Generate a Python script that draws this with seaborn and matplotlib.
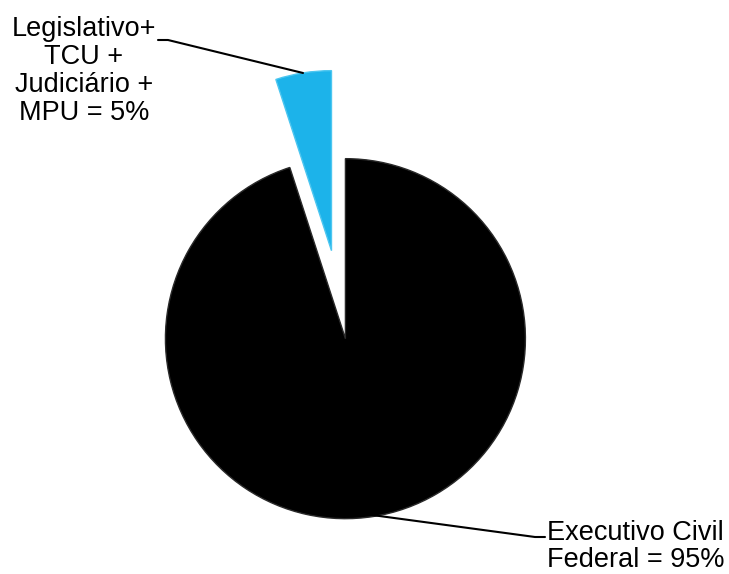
import numpy as np
import matplotlib.pyplot as plt
import seaborn as sns

# shares of federal payroll
categories = ['Executivo Civil\nFederal = 95%', 'Legislativo+\nTCU +\nJudiciário +\nMPU = 5%']
shares = [95, 5]
colors = ['#000000', '#1cb3ea']
explode_frac = [0.015, 0.48]

sns.set_theme(style="white")
plt.rcParams['font.family'] = ['Liberation Sans', 'DejaVu Sans']

W, H = 729, 574
fig = plt.figure(figsize=(W / 100, H / 100), dpi=100)
ax = fig.add_axes([0, 0, 1, 1])
ax.axis('off')

cx, cy, r = 345, H - 336, 180
# matplotlib applies explode as an absolute offset, so scale by radius
explode = [e * r for e in explode_frac]
wedges, _ = ax.pie(shares, colors=colors, explode=explode, startangle=90,
                   counterclock=False, center=(cx, cy), radius=r,
                   wedgeprops={'linewidth': 1, 'edgecolor': '#2a2a2a'})
wedges[1].set_edgecolor('#4cc6f0')
ax.set_xlim(0, W)
ax.set_ylim(0, H)
ax.set_aspect('equal')

# leader lines + labels
ax.plot([158, 168, 303], [H - 40, H - 40, H - 73], color='black', lw=1.5)
ax.text(84, H - 71, categories[1], ha='center', va='center', fontsize=19.5,
        linespacing=1.1, color='black')

ax.plot([372, 535, 545], [H - 515, H - 537, H - 537], color='black', lw=1.5)
ax.text(547, H - 573, categories[0], ha='left', va='bottom', fontsize=19.5,
        linespacing=1.05, color='black')

fig.savefig('out.png', dpi=100)
